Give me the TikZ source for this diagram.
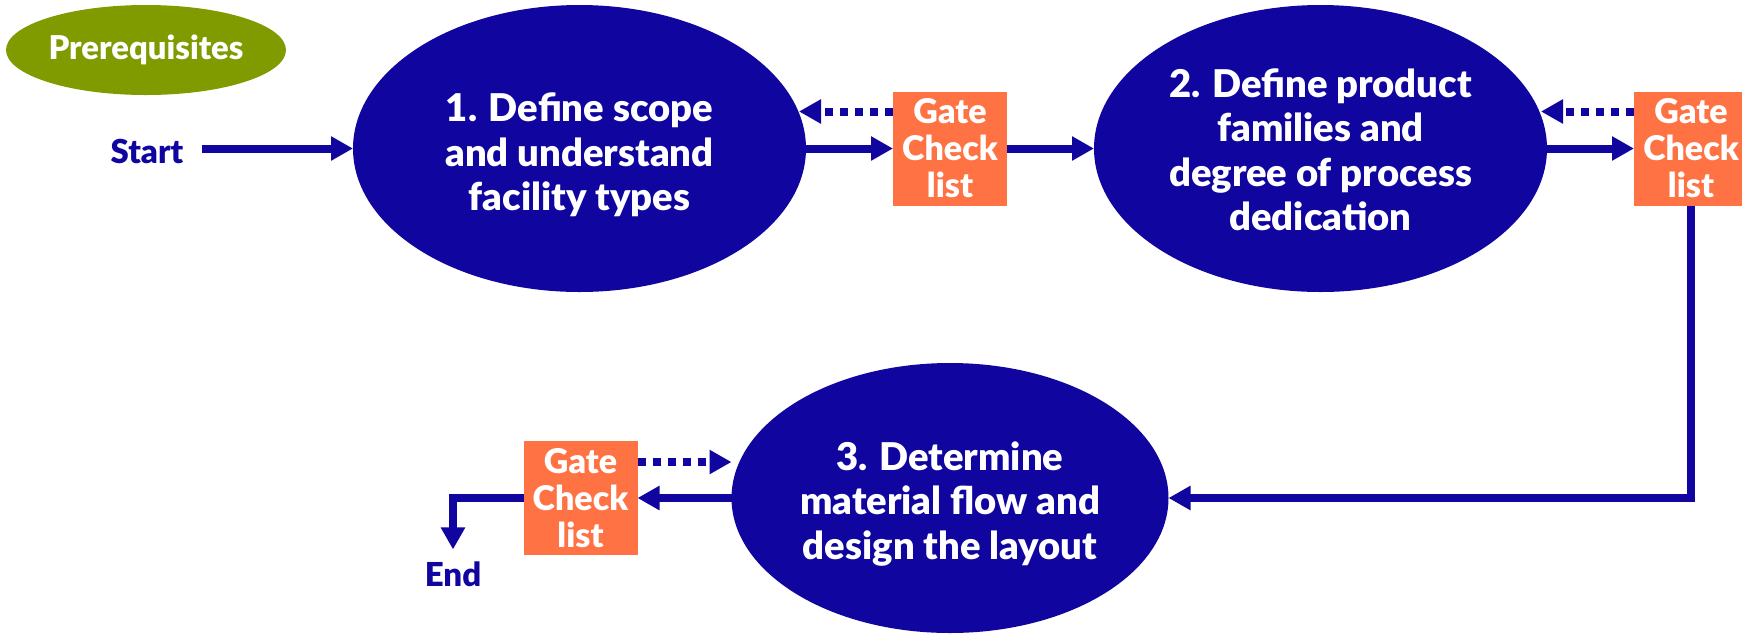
\documentclass[tikz,border=0pt]{standalone}
\usepackage{fontspec}
\setmainfont{Lato}[BoldFont={Lato Black}]
\usetikzlibrary{shapes.geometric, arrows.meta, positioning}
\definecolor{colblue}{RGB}{16,6,159}
\definecolor{colgate}{RGB}{255,114,68}
\definecolor{colpre}{RGB}{128,155,0}

\begin{document}
\begin{tikzpicture}[
  x=0.5pt, y=-0.5pt,
  stage/.style={ellipse, fill=colblue, inner sep=0pt, outer sep=0pt,
                minimum width=226.5pt, minimum height=143.5pt},
  stagetext/.style={text=white, align=center,
                    font=\bfseries\fontsize{19.1}{22.25}\selectfont},
  gate/.style={rectangle, fill=colgate, minimum size=57pt, inner sep=0pt,
               outer sep=0pt, text=white, align=center,
               font=\bfseries\fontsize{17}{18.5}\selectfont},
  term/.style={text=colblue, font=\bfseries\fontsize{16.5}{18}\selectfont},
  flow/.style={-{Triangle[length=11pt,width=11.5pt]}, line width=4pt, colblue},
  back/.style={flow, dash pattern=on 4pt off 3.5pt},
  node distance=43.5pt
]
\useasboundingbox (0,0) rectangle (1742,634);

\node[ellipse, fill=colpre, minimum width=140pt, minimum height=45pt,
      inner sep=0pt, text=white, font=\bfseries\fontsize{16.4}{18}\selectfont]
    (pre) at (146,50) {Prerequisites};

% Stages and their gate checks
\node[stage] (s1) at (579.5,148.5) {};
\node[gate, right=of s1] (g1) {Gate\\Check\\list};
\node[stage, right=of g1] (s2) {};
\node[gate, right=of s2] (g2) {Gate\\Check\\list};
\node[stage, minimum width=218.5pt, minimum height=135pt] (s3) at (950,498) {};
\node[gate, left=47pt of s3] (g3) {Gate\\Check\\list};

\node[stagetext] (s1txt) at ([yshift=-3.25pt]s1.center)
    {1. Define scope\\and understand\\facility types};
\node[stagetext] (s2txt) at ([yshift=-0.75pt]s2.center)
    {2. Define product\\families and\\degree of process\\dedication};
\node[stagetext] (s3txt) at ([yshift=-3pt]s3.center)
    {3. Determine\\material flow and\\design the layout};

\node[term] (start) at (147,151) {Start};
\node[term] (finish) at (453,574) {End};

% Forward flow
\draw[flow, shorten <=6pt] (start.east |- s1.west) -- (s1.west);
\draw[flow] (s1.east) -- (g1.west);
\draw[flow] (g1.east) -- (s2.west);
\draw[flow] (s2.east) -- (g2.west);
\draw[flow] (g2.south) |- (s3.east);
\draw[flow] (s3.west) -- (g3.east);
\draw[flow, shorten >=2.5pt] (g3.west) -| (finish.north);

% Loop back to the stage when a gate fails
\draw[back, shorten >=-3.5pt] ([yshift=18.5pt]g1.west) -- ([yshift=18.5pt]g1.west -| s1.east);
\draw[back, shorten >=-3pt] ([yshift=18.5pt]g2.west) -- ([yshift=18.5pt]g2.west -| s2.east);
\draw[back] ([yshift=18pt]g3.east) -- ([yshift=18pt]g3.east -| s3.west);
\end{tikzpicture}
\end{document}
